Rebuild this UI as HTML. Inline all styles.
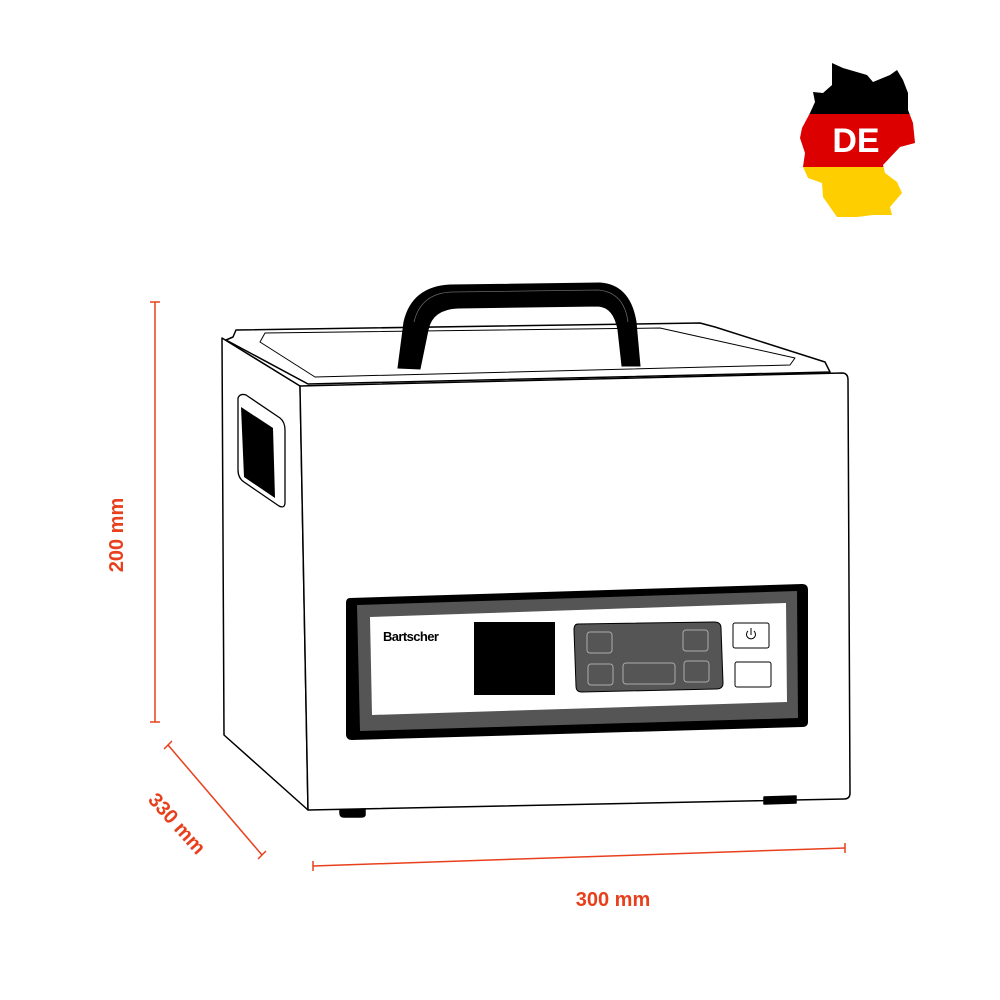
<!DOCTYPE html>
<html><head><meta charset="utf-8"><style>html,body{margin:0;padding:0;background:#fff}svg{display:block}</style></head>
<body>
<svg width="1000" height="1000" viewBox="0 0 1000 1000" xmlns="http://www.w3.org/2000/svg" font-family="Liberation Sans, sans-serif">
<!-- Germany map -->
<defs>
<clipPath id="de"><polygon points="832,63 843,68 867,75 873,82 890,75 897,70 903,80 908,93 908,110 913,123 915,143 900,147 883,165 885,173 897,182 902,193 890,207 892,215 873,215 857,217 837,217 830,207 823,197 822,183 808,178 803,167 805,153 800,138 802,128 810,113 815,102 813,92 823,93 832,85"/></clipPath>
</defs>
<g clip-path="url(#de)">
<rect x="795" y="55" width="130" height="59" fill="#000"/>
<rect x="795" y="114" width="130" height="53" fill="#dd0000"/>
<rect x="795" y="167" width="130" height="60" fill="#ffce00"/>
</g>
<text x="856" y="152" font-size="34" font-weight="bold" fill="#fff" text-anchor="middle">DE</text>

<!-- dimension lines -->
<g stroke="#e8401c" stroke-width="1.5" fill="none">
<line x1="155" y1="302" x2="155" y2="722"/><line x1="150" y1="302" x2="160" y2="302"/><line x1="150" y1="722" x2="160" y2="722"/>
<line x1="168" y1="745" x2="262" y2="855"/><line x1="164" y1="749" x2="172" y2="741"/><line x1="258" y1="859" x2="266" y2="851"/>
<line x1="313" y1="866" x2="845" y2="848"/><line x1="313" y1="861" x2="313" y2="871"/><line x1="845" y1="843" x2="845" y2="853"/>
</g>
<g fill="#e8401c" font-size="20" font-weight="bold">
<text transform="translate(123,535) rotate(-90)" text-anchor="middle">200 mm</text>
<text transform="translate(172,828) rotate(48)" text-anchor="middle">330 mm</text>
<text x="613" y="906" text-anchor="middle">300 mm</text>
</g>

<!-- appliance -->
<g stroke="#000" stroke-width="1.5" fill="#fff" stroke-linejoin="round">
<!-- lid -->
<path d="M233,337 L236,330 L700,323 L715,327 L825,362 L830,372 L308,384 L226,340 Z"/>
<path d="M260,342 L265,333 L660,328 L678,332 L795,358 L790,365 L315,377 Z" fill="none" stroke-width="1"/>
<!-- side -->
<path d="M222,338 L300,386 L308,810 L224,735 Z"/>
<!-- front -->
<path d="M300,386 L842,373 Q848,373 848,380 L850,793 Q850,799 844,799 L308,810 Z"/>
<!-- side handle -->
<path d="M238,398 Q240,393 246,395 L280,418 Q285,422 285,430 L285,502 Q285,509 279,506 L244,482 Q238,478 238,470 Z" stroke-width="1.3"/>
<path d="M241,407 L273,428 L275,498 L244,477 Z" fill="#000" stroke="none"/>
<!-- feet -->
<path d="M340,810 L365,809 L365,815 Q365,817 360,817 L344,817 Q340,817 340,813 Z" fill="#000"/>
<path d="M764,797 L796,796 L796,803 L764,804 Z" fill="#000"/>
</g>
<!-- top handle -->
<path d="M398,368 L404,322 Q412,287 450,285 L600,283 Q630,285 636,322 L640,366 L622,366 L618,330 Q614,307 598,306 L458,308 Q432,309 428,330 L420,369 Z" fill="#000" stroke="#000" stroke-width="1"/>
<path d="M414,322 Q421,293 452,292 L598,290 Q624,292 628,322" fill="none" stroke="#666" stroke-width="0.8"/>

<!-- control panel -->
<path d="M350,598 L802,584 Q808,584 808,590 L808,722 Q808,727 802,727 L352,740 Q346,740 346,734 L346,603 Q346,598 350,598 Z" fill="#000"/>
<path d="M357,605 L797,591 L798,718 L360,731 Z" fill="#555"/>
<path d="M370,617 L786,603 L787,702 L372,715 Z" fill="#fff"/>
<text x="383" y="641" font-size="13" font-weight="bold" font-family="Liberation Sans Narrow, Liberation Sans, sans-serif" letter-spacing="-0.6">Bartscher</text>
<rect x="474" y="622" width="81" height="73" fill="#000"/>
<path d="M578,624 L714,622 Q721,622 721,628 L723,683 Q723,689 716,689 L582,692 Q576,692 576,686 L574,630 Q574,624 578,624 Z" fill="#555" stroke="#000" stroke-width="1"/>
<g fill="none" stroke="#aaa" stroke-width="1">
<rect x="587" y="632" width="25" height="21" rx="3"/>
<rect x="683" y="630" width="25" height="21" rx="3"/>
<rect x="588" y="664" width="25" height="21" rx="3"/>
<rect x="623" y="663" width="52" height="21" rx="3"/>
<rect x="684" y="661" width="25" height="21" rx="3"/>
</g>
<rect x="733" y="623" width="36" height="25" rx="2" fill="#fff" stroke="#000" stroke-width="1"/>
<rect x="735" y="662" width="36" height="25" rx="2" fill="#fff" stroke="#000" stroke-width="1"/>
<path d="M748,631 A4.5,4.5 0 1,0 754,631 M751,628 L751,635" fill="none" stroke="#000" stroke-width="1"/>
</svg>
</body></html>
